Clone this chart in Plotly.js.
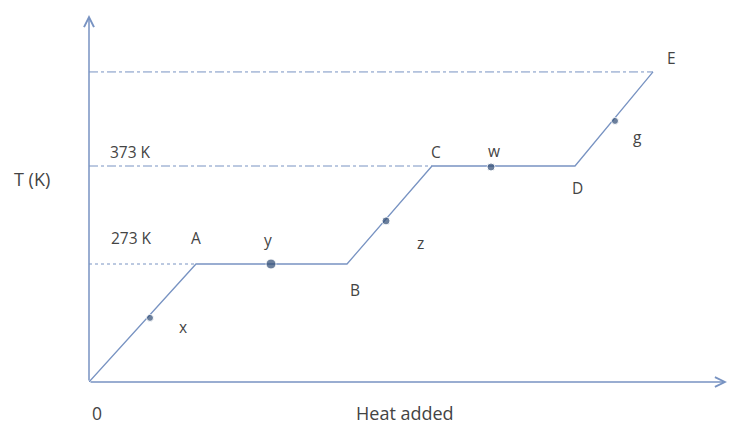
<!DOCTYPE html>
<html>
<head>
<meta charset="utf-8">
<script src="https://cdn.plot.ly/plotly-3.0.1.min.js"></script>
<style>html,body{margin:0;padding:0;background:#fff;}#chart{width:729px;height:425px;}</style>
</head>
<body>
<div id="chart"></div>
<script>
// Heating curve path (heat added in arbitrary units, temperature in K)
const pathLabels = ["O", "A", "B", "C", "D", "E"];
const pathHeat = [0, 10.7, 25.8, 34.3, 48.6, 56.4];
const pathTemp = [152.6, 273, 273, 373, 373, 469];

// Marked states on the curve
const pointLabels = ["x", "y", "z", "w", "g"];
const pointHeat = [6.1, 18.2, 29.7, 40.2, 52.6];
const pointTemp = [218, 273, 317, 372, 419];
const pointSizes = [7, 10, 8, 8, 7];

// Reference temperatures
const refTemps = [273, 373, 469];
const refEnds = [10.7, 34.3, 56.4];
const refTickLabels = ["273 K", "373 K"];

const axisMin = { heat: 0, temp: 152.6 };
const axisMax = { heat: 63.8, temp: 527.1 };

const lineColor = "#7893c2";
const markColor = "#2d4a73";
const textColor = "#444444";
const fontFam = "'Open Sans', sans-serif";

const traces = [];
// reference lines
const refDash = ["dot", "dashdot", "dashdot"];
refTemps.forEach((t, i) => {
  traces.push({
    x: [axisMin.heat, refEnds[i]], y: [t, t], mode: "lines",
    line: { color: lineColor, width: 1, dash: refDash[i] },
    hoverinfo: "skip", showlegend: false
  });
});
traces.push({
  x: pathHeat, y: pathTemp, mode: "lines",
  line: { color: lineColor, width: 1.3 },
  showlegend: false, hoverinfo: "skip"
});
traces.push({
  x: pointHeat, y: pointTemp, mode: "markers",
  marker: { color: markColor, size: pointSizes },
  showlegend: false, hoverinfo: "skip"
});

const ann = [];
const lab = (text, x, y) => ann.push({ text, x, y, xref: "x", yref: "y", showarrow: false,
  xanchor: "center", yanchor: "middle",
  font: { family: fontFam, size: 15.5, color: textColor } });

// reference temperature labels
lab(refTickLabels[0], 4.2, 299.5);
lab(refTickLabels[1], 4.15, 386.8);
// path corner labels
lab(pathLabels[1], 10.7, 299.5);
lab(pathLabels[2], 26.6, 246.5);
lab(pathLabels[3], 34.7, 387.3);
lab(pathLabels[4], 48.8, 350.6);
lab(pathLabels[5], 58.2, 483.2);
// point labels
lab(pointLabels[0], 9.4, 208.7);
lab(pointLabels[1], 17.9, 297.5);
lab(pointLabels[2], 33.1, 294.4);
lab(pointLabels[3], 40.5, 388.3);
lab(pointLabels[4], 54.8, 402.6);

// axes with arrows
ann.push({ x: axisMax.heat, y: axisMin.temp, ax: axisMin.heat, ay: axisMin.temp,
  xref: "x", yref: "y", axref: "x", ayref: "y", text: "", showarrow: true,
  arrowhead: 5, arrowsize: 1.3, arrowwidth: 1.5, arrowcolor: lineColor });
ann.push({ x: axisMin.heat, y: axisMax.temp, ax: axisMin.heat, ay: axisMin.temp,
  xref: "x", yref: "y", axref: "x", ayref: "y", text: "", showarrow: true,
  arrowhead: 5, arrowsize: 1.3, arrowwidth: 1.5, arrowcolor: lineColor });

// axis titles
const title = (text, x, y, size) => ann.push({ text, x, y, xref: "paper", yref: "paper",
  showarrow: false, xanchor: "center", yanchor: "middle",
  font: { family: fontFam, size, color: textColor } });
title("T (K)", -0.0888, 0.553, 18);
title("0", 0.0121, -0.0845, 17.5);
title("Heat added", 0.495, -0.0845, 18);

const layout = {
  width: 729, height: 425,
  margin: { l: 89, r: 2, t: 15, b: 43 },
  paper_bgcolor: "#ffffff", plot_bgcolor: "#ffffff",
  xaxis: { range: [axisMin.heat, axisMax.heat], showgrid: false, zeroline: false,
    showticklabels: false, ticks: "", showline: false },
  yaxis: { range: [axisMin.temp, axisMax.temp], showgrid: false, zeroline: false,
    showticklabels: false, ticks: "", showline: false },
  annotations: ann
};

Plotly.newPlot("chart", traces, layout, { displayModeBar: false, staticPlot: true });
</script>
</body>
</html>
